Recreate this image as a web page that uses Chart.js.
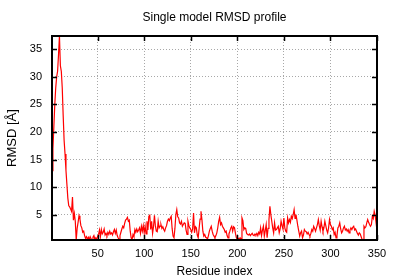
<!DOCTYPE html>
<html>
<head>
<meta charset="utf-8">
<script src="https://cdn.jsdelivr.net/npm/chart.js@4.4.0/dist/chart.umd.min.js"></script>
<style>
  html, body { margin: 0; padding: 0; background: #fff; }
  #wrap { width: 400px; height: 280px; }
</style>
</head>
<body>
<div id="wrap"><canvas id="rmsdchart" width="400" height="280"></canvas></div>
<script>
// RMSD per residue (residue 1..350)
const firstResidue = 1;
const rmsd = [
  13.0, 17.0, 21.0, 25.0, 28.0, 30.0, 31.0, 34.0, 37.4, 32.0,
  31.0, 28.0, 23.0, 18.5, 16.0, 13.0, 10.5, 8.0, 6.6, 6.4,
  6.0, 5.6, 8.2, 4.0, 5.2, 3.8, 0.4, 2.5, 3.6, 4.8,
  4.2, 3.0, 2.6, 1.8, 2.0, 1.2, 0.7, 1.0, 0.5, 0.9,
  0.5, 1.0, 0.6, 0.4, 0.9, 1.2, 0.5, 0.8, 0.4, 1.1,
  1.4, 2.2, 1.0, 2.3, 1.5, 1.8, 2.4, 1.3, 1.6, 1.2,
  1.8, 1.4, 2.0, 1.5, 1.7, 1.3, 1.9, 2.3, 1.6, 2.2,
  1.2, 0.8, 0.5, 1.2, 1.8, 2.4, 2.9, 2.6, 3.4, 4.0,
  4.2, 4.5, 3.8, 4.0, 2.0, 0.8, 0.5, 1.4, 1.0, 2.3,
  1.8, 2.4, 1.9, 2.2, 2.6, 1.6, 2.9, 2.0, 3.0, 1.7,
  2.9, 1.5, 3.8, 2.2, 4.7, 4.9, 2.3, 3.8, 1.6, 2.8,
  4.9, 3.0, 2.0, 1.9, 3.8, 2.6, 2.9, 3.2, 2.5, 2.8,
  2.3, 2.0, 2.6, 3.0, 3.8, 4.2, 3.9, 4.4, 4.7, 2.5,
  1.1, 0.8, 2.5, 5.0, 5.9, 4.6, 4.4, 3.5, 3.3, 3.8,
  2.9, 3.2, 3.5, 3.4, 2.2, 1.4, 3.8, 3.0, 2.6, 2.3,
  1.8, 2.4, 5.3, 1.7, 2.8, 2.6, 1.3, 0.8, 2.5, 4.2,
  5.6, 4.1, 2.0, 1.1, 1.4, 0.9, 0.8, 0.6, 1.2, 2.0,
  2.5, 2.9, 2.0, 1.4, 1.1, 0.8, 1.2, 1.7, 2.6, 3.8,
  4.5, 3.2, 3.5, 2.9, 2.6, 2.3, 1.8, 2.0, 1.2, 0.8,
  1.5, 2.0, 2.6, 2.9, 2.0, 2.8, 2.6, 1.6, 0.8, 0.6,
  0.7, 0.5, 0.8, 0.6, 4.4, 3.9, 2.3, 2.6, 2.5, 1.6,
  1.4, 1.3, 1.5, 1.2, 1.4, 1.6, 1.3, 1.2, 1.5, 1.3,
  1.6, 1.2, 1.8, 1.5, 2.6, 1.2, 2.2, 2.9, 1.1, 2.1,
  3.2, 0.8, 2.5, 4.1, 6.5, 5.0, 3.8, 2.6, 1.7, 3.5,
  2.2, 2.3, 2.6, 2.9, 1.7, 2.4, 3.8, 3.0, 2.4, 4.4,
  2.6, 2.0, 1.8, 4.4, 3.5, 4.1, 3.6, 4.7, 4.3, 5.0,
  5.9, 4.3, 5.0, 4.0, 2.9, 2.0, 1.1, 1.7, 2.0, 0.8,
  1.3, 2.3, 2.0, 1.9, 1.5, 1.8, 1.4, 1.1, 1.6, 2.3,
  2.0, 2.9, 2.5, 2.0, 2.6, 3.2, 4.1, 3.0, 2.2, 3.8,
  2.8, 2.0, 2.6, 3.8, 3.0, 2.2, 1.7, 2.6, 4.1, 3.2,
  2.9, 2.3, 2.6, 1.4, 1.8, 0.8, 1.2, 2.6, 2.9, 3.5,
  2.4, 1.7, 2.0, 2.6, 2.9, 2.2, 2.4, 2.0, 2.3, 1.7,
  2.2, 2.6, 2.3, 2.7, 2.9, 2.2, 2.4, 2.0, 1.6, 1.3,
  1.7, 1.5, 1.0, 0.5, 0.4, 2.9, 2.6, 2.8, 3.5, 4.1,
  3.6, 3.2, 2.9, 3.2, 4.7, 4.3, 5.6, 4.9, 3.5, 4.6
];

const xTickValues = [50, 100, 150, 200, 250, 300, 350];
const yTickValues = [5, 10, 15, 20, 25, 30, 35];

const FONT = "'Liberation Sans', Arial, sans-serif";

const points = rmsd.map((v, i) => ({ x: firstResidue + i, y: v }));

// gnuplot-like frame with inward ticks on all four sides
const framePlugin = {
    id: 'frame',
    afterDraw: (chart) => {
        const ctx = chart.ctx;
        const a = chart.chartArea;
        const xs = chart.scales.x;
        const ys = chart.scales.y;
        const len = 5;
        ctx.save();
        ctx.strokeStyle = '#000';
        ctx.lineWidth = 1.5;
        ctx.beginPath();
        xTickValues.forEach(v => {
            const px = Math.round(xs.getPixelForValue(v)) + 0.5;
            ctx.moveTo(px, a.bottom); ctx.lineTo(px, a.bottom - len);
            ctx.moveTo(px, a.top); ctx.lineTo(px, a.top + len);
        });
        yTickValues.forEach(v => {
            const py = Math.round(ys.getPixelForValue(v)) + 0.5;
            ctx.moveTo(a.left, py); ctx.lineTo(a.left + len, py);
            ctx.moveTo(a.right, py); ctx.lineTo(a.right - len, py);
        });
        ctx.stroke();
        ctx.lineWidth = 2;
        ctx.strokeRect(a.left, a.top, a.right - a.left, a.bottom - a.top);
        ctx.restore();
    }
};

new Chart(document.getElementById('rmsdchart'), {
    type: 'line',
    data: {
        datasets: [{
            data: points,
            borderColor: '#ff0000',
            borderWidth: 1.2,
            pointRadius: 0,
            tension: 0,
            fill: false
        }]
    },
    options: {
        responsive: false,
        animation: false,
        layout: { padding: { left: 0, right: 23, top: 0, bottom: 0 } },
        plugins: {
            legend: { display: false },
            tooltip: { enabled: false }
        },
        scales: {
            x: {
                type: 'linear',
                min: firstResidue,
                max: 350,
                afterBuildTicks: (s) => { s.ticks = xTickValues.map(v => ({ value: v })); },
                afterFit: (s) => { s.height = 40; },
                ticks: { color: '#000', font: { family: FONT, size: 11 }, padding: 7, maxRotation: 0 },
                grid: { color: '#a8a8a8', lineWidth: 1, drawTicks: false },
                border: { display: false, dash: [1, 2] },
                title: {
                    display: true,
                    text: 'Residue index',
                    color: '#000',
                    font: { family: FONT, size: 12 },
                    padding: { top: 0, bottom: 1 }
                }
            },
            // top axis only carries the chart title, centred over the plot
            xTop: {
                type: 'linear',
                position: 'top',
                min: firstResidue,
                max: 350,
                afterFit: (s) => { s.height = 36; },
                ticks: { display: false },
                grid: { display: false, drawTicks: false },
                border: { display: false },
                title: {
                    display: true,
                    text: 'Single model RMSD profile',
                    color: '#000',
                    font: { family: FONT, size: 12 },
                    padding: { top: 10, bottom: 0 }
                }
            },
            y: {
                type: 'linear',
                min: Math.min(...rmsd),
                max: Math.max(...rmsd),
                afterBuildTicks: (s) => { s.ticks = yTickValues.map(v => ({ value: v })); },
                afterFit: (s) => { s.width = 52; },
                ticks: { color: '#000', font: { family: FONT, size: 11 }, padding: 10 },
                grid: { color: '#a8a8a8', lineWidth: 1, drawTicks: false },
                border: { display: false, dash: [1, 2] },
                title: {
                    display: true,
                    text: 'RMSD [Å]',
                    color: '#000',
                    font: { family: FONT, size: 13 },
                    padding: { top: 5, bottom: 0 }
                }
            }
        }
    },
    plugins: [framePlugin]
});
</script>
</body>
</html>
